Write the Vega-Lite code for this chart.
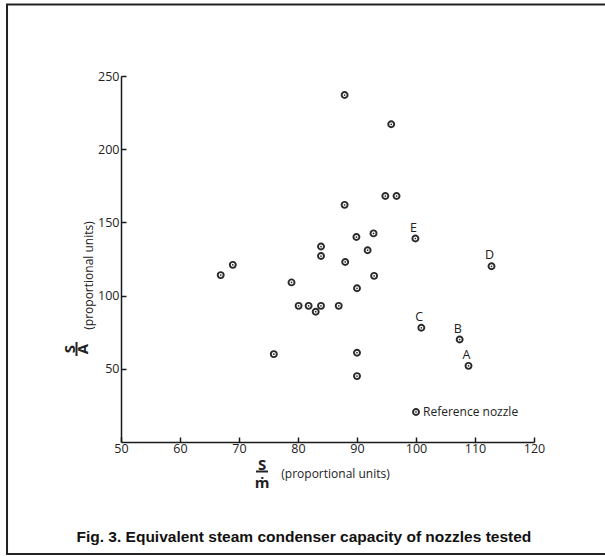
{
  "$schema": "https://vega.github.io/schema/vega-lite/v6.json",
  "width": 413,
  "height": 366,
  "autosize": {"type": "none"},
  "padding": {"left": 121, "top": 76, "right": 71, "bottom": 114},
  "background": "white",
  "config": {"view": {"stroke": null}, "font": "Open Sans"},
  "data": {"values": [{}]},
  "datasets": {
    "points": [
      {"x": 87.9, "y": 237},
      {"x": 95.8, "y": 217},
      {"x": 94.8, "y": 168},
      {"x": 96.7, "y": 168},
      {"x": 87.9, "y": 162},
      {"x": 89.9, "y": 140},
      {"x": 92.8, "y": 142.5},
      {"x": 99.9, "y": 139, "label": "E"},
      {"x": 83.9, "y": 133.5},
      {"x": 83.9, "y": 127},
      {"x": 91.8, "y": 131},
      {"x": 88.0, "y": 123},
      {"x": 112.8, "y": 120, "label": "D"},
      {"x": 68.95, "y": 121},
      {"x": 66.9, "y": 114},
      {"x": 92.9, "y": 113.5},
      {"x": 78.9, "y": 109},
      {"x": 90.0, "y": 105},
      {"x": 80.1, "y": 93},
      {"x": 81.8, "y": 93},
      {"x": 83.9, "y": 93},
      {"x": 86.9, "y": 93},
      {"x": 83.0, "y": 89},
      {"x": 100.9, "y": 78, "label": "C"},
      {"x": 107.4, "y": 70, "label": "B"},
      {"x": 75.9, "y": 60},
      {"x": 90.0, "y": 61},
      {"x": 108.9, "y": 52, "label": "A"},
      {"x": 90.0, "y": 45},
      {"x": 100.0, "y": 20.5, "note": "Reference nozzle"}
    ]
  },
  "layer": [
    {
      "data": {"name": "points"},
      "mark": {"type": "point", "shape": "circle", "filled": false, "size": 36, "strokeWidth": 1.9, "color": "#2a2a2a", "opacity": 1},
      "encoding": {
        "x": {
          "field": "x", "type": "quantitative",
          "scale": {"domain": [50, 120], "nice": false, "zero": false},
          "axis": {
            "values": [50, 60, 70, 80, 90, 100, 110, 120], "format": "d",
            "grid": false, "domainColor": "#1a1a1a", "domainWidth": 1.5,
            "tickColor": "#1a1a1a", "tickWidth": 1.5, "tickSize": -5,
            "labelFontSize": 12.5, "labelColor": "#222", "labelPadding": 5, "labelFlush": false,
            "title": "(proportional units)", "titleFontSize": 12, "titleFontWeight": "normal",
            "titleColor": "#222", "titleX": 214, "titleY": 31, "titleAlign": "center", "titleBaseline": "middle"
          }
        },
        "y": {
          "field": "y", "type": "quantitative",
          "scale": {"domain": [0, 250], "nice": false, "zero": true},
          "axis": {
            "values": [50, 100, 150, 200, 250], "format": "d",
            "grid": false, "domainColor": "#1a1a1a", "domainWidth": 1.5,
            "tickColor": "#1a1a1a", "tickWidth": 1.5, "tickSize": -5,
            "labelFontSize": 12.5, "labelColor": "#222", "labelPadding": 7, "labelFlush": false,
            "title": "(proportional units)", "titleFontSize": 12, "titleFontWeight": "normal",
            "titleColor": "#222", "titleX": -33, "titleY": 199, "titleAngle": 270,
            "titleAlign": "center", "titleBaseline": "middle"
          }
        }
      }
    },
    {
      "data": {"name": "points"},
      "mark": {"type": "point", "shape": "circle", "filled": true, "size": 3, "color": "#2a2a2a", "opacity": 1},
      "encoding": {
        "x": {"field": "x", "type": "quantitative"},
        "y": {"field": "y", "type": "quantitative"}
      }
    },
    {
      "data": {"name": "points"},
      "transform": [{"filter": "isValid(datum.label)"}],
      "mark": {"type": "text", "dx": -2, "dy": -11, "fontSize": 12.5, "color": "#222", "align": "center", "baseline": "middle"},
      "encoding": {
        "x": {"field": "x", "type": "quantitative"},
        "y": {"field": "y", "type": "quantitative"},
        "text": {"field": "label"}
      }
    },
    {
      "data": {"name": "points"},
      "transform": [{"filter": "isValid(datum.note)"}],
      "mark": {"type": "text", "dx": 7, "fontSize": 12, "color": "#222", "align": "left", "baseline": "middle"},
      "encoding": {
        "x": {"field": "x", "type": "quantitative"},
        "y": {"field": "y", "type": "quantitative"},
        "text": {"field": "note"}
      }
    },
    {
      "mark": {"type": "text", "text": "S", "fontSize": 15, "fontWeight": "bold", "angle": 270, "color": "#222", "align": "center", "baseline": "middle"},
      "encoding": {"x": {"datum": 41.3}, "y": {"datum": 63.5}}
    },
    {
      "mark": {"type": "text", "text": "A", "fontSize": 15, "fontWeight": "bold", "angle": 270, "color": "#222", "align": "center", "baseline": "middle"},
      "encoding": {"x": {"datum": 43.6}, "y": {"datum": 63.5}}
    },
    {
      "mark": {"type": "rule", "color": "#222", "strokeWidth": 2},
      "encoding": {"x": {"datum": 42.46}, "y": {"datum": 68.3}, "y2": {"datum": 58.7}}
    },
    {
      "mark": {"type": "text", "text": "S", "fontSize": 15, "fontWeight": "bold", "color": "#222", "align": "center", "baseline": "alphabetic"},
      "encoding": {"x": {"datum": 73.9}, "y": {"datum": -18.8}}
    },
    {
      "mark": {"type": "text", "text": "ṁ", "fontSize": 15, "fontWeight": "bold", "color": "#222", "align": "center", "baseline": "alphabetic"},
      "encoding": {"x": {"datum": 73.9}, "y": {"datum": -31.3}}
    },
    {
      "mark": {"type": "rule", "color": "#222", "strokeWidth": 2},
      "encoding": {"x": {"datum": 72.88}, "x2": {"datum": 74.92}, "y": {"datum": -20.15}}
    },
    {
      "mark": {"type": "text", "text": "Fig. 3. Equivalent steam condenser capacity of nozzles tested", "font": "Liberation Sans", "fontSize": 15.5, "fontWeight": "bold", "color": "#111", "align": "center", "baseline": "middle"},
      "encoding": {"x": {"datum": 81.0}, "y": {"datum": -64.9}}
    },
    {
      "mark": {"type": "rect", "fill": null, "stroke": "#222", "strokeWidth": 2},
      "encoding": {"x": {"datum": 30.68}, "x2": {"datum": 132.9}, "y": {"datum": 298.8}, "y2": {"datum": -76.5}}
    }
  ]
}
